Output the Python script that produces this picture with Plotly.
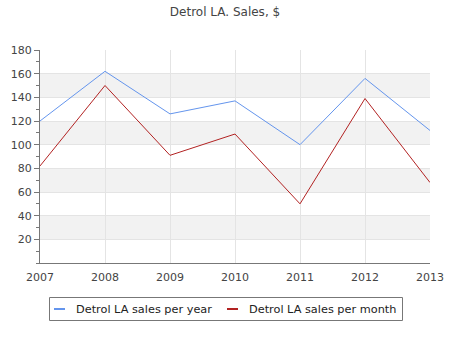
import plotly.graph_objects as go

years = [2007, 2008, 2009, 2010, 2011, 2012, 2013]
sales_per_year = [120, 162, 126, 137, 100, 156, 112]
sales_per_month = [82, 150, 91, 109, 50, 139, 68]
band_ranges = [(20, 40), (60, 80), (100, 120), (140, 160)]
series_names = ["Detrol LA sales per year", "Detrol LA sales per month"]
series_colors = ["#6495ED", "#B22222"]

fig = go.Figure()
for vals, name, col in zip([sales_per_year, sales_per_month], series_names, series_colors):
    fig.add_trace(go.Scatter(x=years, y=vals, mode="lines", name=name,
                             line=dict(color=col, width=1), showlegend=False))

for lo, hi in band_ranges:
    fig.add_shape(type="rect", xref="paper", yref="y", x0=0, x1=1, y0=lo, y1=hi,
                  fillcolor="#f2f2f2", line=dict(width=0), layer="below")

# manual legend (plot area: x 40..430 px, y 50..263 px)
def px_x(p):
    return (p - 40) / 390

def px_y(p):
    return (263 - p) / 213

fig.add_shape(type="rect", xref="paper", yref="paper",
              x0=px_x(49.5), x1=px_x(402.5), y0=px_y(320.5), y1=px_y(297.5),
              line=dict(color="#777", width=1), fillcolor="white")
legend_items = [(54, 65, 74), (227, 238, 247)]
for (lx0, lx1, tx), name, col in zip(legend_items, series_names, series_colors):
    fig.add_shape(type="line", xref="paper", yref="paper",
                  x0=px_x(lx0), x1=px_x(lx1), y0=px_y(309), y1=px_y(309),
                  line=dict(color=col, width=2))
    fig.add_annotation(xref="paper", yref="paper", x=px_x(tx), y=px_y(309),
                       xanchor="left", yanchor="middle", text=name, showarrow=False,
                       font=dict(size=11.3, color="#222"))

fig.update_layout(
    width=450, height=350,
    margin=dict(l=40, r=20, t=50, b=87),
    paper_bgcolor="white", plot_bgcolor="white",
    font=dict(family="DejaVu Sans", size=11, color="#444"),
    title=dict(text="Detrol LA. Sales, $", x=0.5, xanchor="center", y=0.965, yanchor="middle",
               font=dict(size=12, color="#444")),
    showlegend=False,
)
fig.update_xaxes(range=[2007, 2013], tickvals=years, ticktext=[str(y) for y in years],
                 showgrid=True, gridcolor="#e4e4e4", gridwidth=1, automargin=False,
                 showline=True, linecolor="#777", linewidth=1,
                 ticks="outside", ticklen=4, tickcolor="rgba(0,0,0,0)", zeroline=False)
fig.update_yaxes(range=[0, 180], tickvals=[20, 40, 60, 80, 100, 120, 140, 160, 180],
                 showgrid=True, gridcolor="#e4e4e4", gridwidth=1, automargin=False,
                 showline=True, linecolor="#777", linewidth=1,
                 ticks="outside", ticklen=5, tickcolor="#777",
                 minor=dict(dtick=10, ticks="outside", ticklen=3, tickcolor="#777", showgrid=False),
                 zeroline=False)

fig.write_html("out.html")
